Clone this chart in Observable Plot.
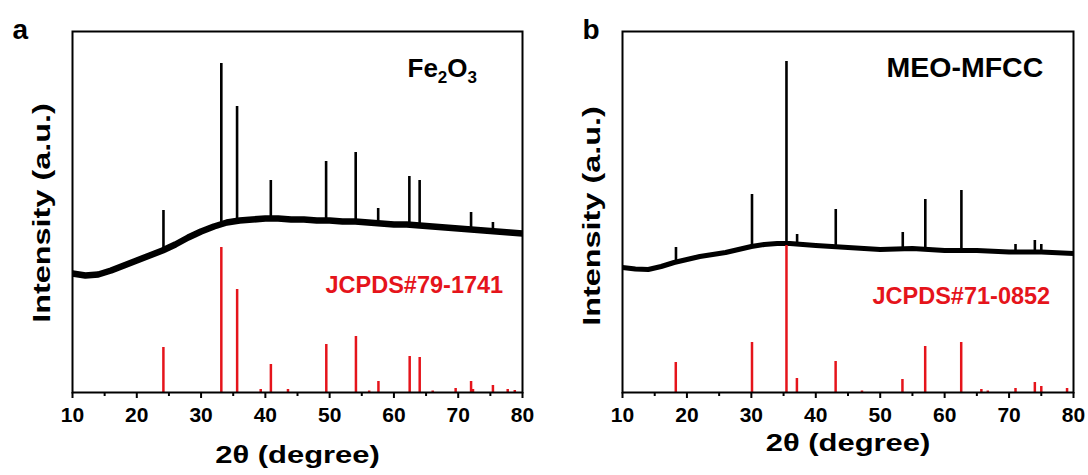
<!DOCTYPE html>
<html><head><meta charset="utf-8">
<script src="https://cdn.jsdelivr.net/npm/d3@7"></script>
<script src="https://cdn.jsdelivr.net/npm/@observablehq/plot@0.6"></script>
<style>
body{margin:0;background:#fff;}
#wrap{display:flex;width:1088px;height:475px;}
</style></head><body><div id="wrap"></div>
<script>
// ---- axis ticks ----
const ticksMajor = [10,20,30,40,50,60,70,80];
const ticksMinor = [15,25,35,45,55,65,75];

// ---- panel a : Fe2O3 ----
const angleA = [10,12,14,16,18,20,22,24,26,28,30,32,34,36,38,40,42,44,46,48,50,52,54,56,58,60,62,64,66,68,70,72,74,76,78,80];
const baseA  = [119,117,118,122,127,132,137,142,148,155,161,166,170,172,173,174,174,173,173,172,172,171,171,170,169,168,168,167,166,165,164,163,162,161,160,159];
const peakPosA  = [24.15,33.15,35.6,40.85,49.45,54.05,57.55,62.4,64.0,72.0,75.4];
const peakBaseA = [142,168,172,174,172,171,169,168,167,163,162];
const peakTopA  = [182,329,286,212,231,240,184,216,212,180,170];
const refPosA = [24.14,33.15,35.61,39.28,40.86,43.52,49.48,54.09,56.15,57.59,62.45,64.01,66.03,69.6,72.0,72.3,75.4,77.7,78.8];
const refIntA = [45,145,103,3,28,3,48,56,1.5,11,36,35,1.5,4,11,3,7,3,2];

// ---- panel b : MEO-MFCC ----
const angleB = [10,12,14,16,18,20,22,24,26,28,30,32,34,36,38,40,45,50,55,60,65,70,75,80];
const baseB  = [125,123.5,123,126,130,133,136,138,140,143,146,148,149,149,148,147,145,143,144,142,142,140.5,140.5,139];
const peakPosB  = [18.3,30.1,35.45,37.1,43.1,53.5,57.0,62.6,71.0,74.0,75.0];
const peakBaseB = [130,146,149,148.5,146,143.5,143.5,142,140.5,140.5,140.5];
const peakTopB  = [145,198,331,158,183,160,193,202,148,152,148];
const refPosB = [18.27,30.1,35.45,37.07,43.08,47.17,53.45,56.98,62.57,65.7,66.7,71.0,74.0,75.0,79.0];
const refIntB = [30,50,147,14,31,1.5,13,46,50,3,1.5,4,10,6,4];

const FONT = '"Liberation Sans", Arial, sans-serif';
const RED = "#e5141b";

function stretch(sel, label, s) {
  sel.selectAll("text").filter(function(){return this.textContent === label;})
    .each(function(){
      const t = d3.select(this);
      const tr = t.attr("transform") || "";
      let x = parseFloat(t.attr("x"));
      if (!isFinite(x) || String(t.attr("x")).includes("em")) x = 0;
      t.attr("transform", `${tr} translate(${x},0) scale(${s},1) translate(${-x},0)`);
    });
}

function panel(o) {
  const base = o.angle.map((x,i)=>({x, y:o.base[i]}));
  const peaks = o.peakPos.map((x,i)=>({x, b:o.peakBase[i], t:o.peakTop[i]}));
  const ref = o.refPos.map((x,i)=>({x, v:o.refInt[i]}));
  const svg = Plot.plot({
    width: 544, height: 475,
    marginLeft: o.ml, marginRight: o.mr, marginTop: 31, marginBottom: 83,
    style: {fontFamily: FONT, background: "#fff", overflow: "visible"},
    x: {domain: [10, 80], axis: null},
    y: {domain: [0, 361], axis: null},
    marks: [
      Plot.line(base, {x:"x", y:"y", stroke:"#000", strokeWidth:o.lw, strokeLinecap:"butt", strokeLinejoin:"round"}),
      Plot.ruleX(peaks, {x:"x", y1:"b", y2:"t", stroke:"#000", strokeWidth:2.6}),
      Plot.ruleX(ref, {x:"x", y1:0, y2:"v", stroke:RED, strokeWidth:2.5}),
      Plot.frame({stroke:"#000", strokeWidth:2}),
      Plot.axisX(ticksMajor, {tickSize:6, tickPadding:9, strokeWidth:2, fontSize:21, fontWeight:"bold", fill:"#000", label:null}),
      Plot.axisX(ticksMinor, {tickSize:4, strokeWidth:2, text:null, label:null}),
      Plot.text(["2θ (degree)"], {frameAnchor:"bottom", dy:o.xtDy, textAnchor:"middle", lineAnchor:"bottom", fontSize:24, fontWeight:"bold", fill:"#000"}),
      Plot.text(["Intensity (a.u.)"], {frameAnchor:"left", dx:-30, dy:o.ytDy, rotate:-90, textAnchor:"middle", lineAnchor:"middle", fontSize:24, fontWeight:"bold", fill:"#000"}),
      Plot.text([o.letter], {frameAnchor:"top-left", dx:o.letDx, dy:7, textAnchor:"start", lineAnchor:"bottom", fontSize:28, fontWeight:"bold", fill:"#000"}),
      Plot.text([o.sample], {frameAnchor:"top-left", dx:o.sDx, dy:45, textAnchor:"start", lineAnchor:"bottom", fontSize:o.sFs, fontWeight:"bold", fill:"#000"}),
      Plot.text([o.jcpds], {frameAnchor:"top-left", dx:o.jDx, dy:o.jDy, textAnchor:"start", lineAnchor:"bottom", fontSize:23.5, fontWeight:"bold", fill:RED})
    ]
  });
  const s = d3.select(svg);
  stretch(s, "Intensity (a.u.)", 1.35);
  stretch(s, "2θ (degree)", 1.29);
  s.selectAll("text").filter(function(){return this.textContent === "Fe2O3";})
    .each(function(){
      const t = d3.select(this);
      t.text(null);
      t.append("tspan").text("Fe");
      t.append("tspan").attr("font-size", 17).attr("dy", 6).text("2");
      t.append("tspan").attr("dy", -6).text("O");
      t.append("tspan").attr("font-size", 17).attr("dy", 6).text("3");
    });
  return svg;
}

const wrap = document.getElementById("wrap");
wrap.appendChild(panel({
  angle: angleA, base: baseA, peakPos: peakPosA, peakBase: peakBaseA, peakTop: peakTopA,
  refPos: refPosA, refInt: refIntA, ml: 72, mr: 22, lw: 6.5,
  xtDy: 70, ytDy: 1, letter: "a", letDx: -60, sample: "Fe2O3", sDx: 335, sFs: 26,
  jcpds: "JCPDS#79-1741", jDx: 253, jDy: 261
}));
wrap.appendChild(panel({
  angle: angleB, base: baseB, peakPos: peakPosB, peakBase: peakBaseB, peakTop: peakTopB,
  refPos: refPosB, refInt: refIntB, ml: 78, mr: 15, lw: 5,
  xtDy: 58, ytDy: 4, letter: "b", letDx: -40, sample: "MEO-MFCC", sDx: 264, sFs: 28.5,
  jcpds: "JCPDS#71-0852", jDx: 250, jDy: 272
}));
</script>
</body></html>
